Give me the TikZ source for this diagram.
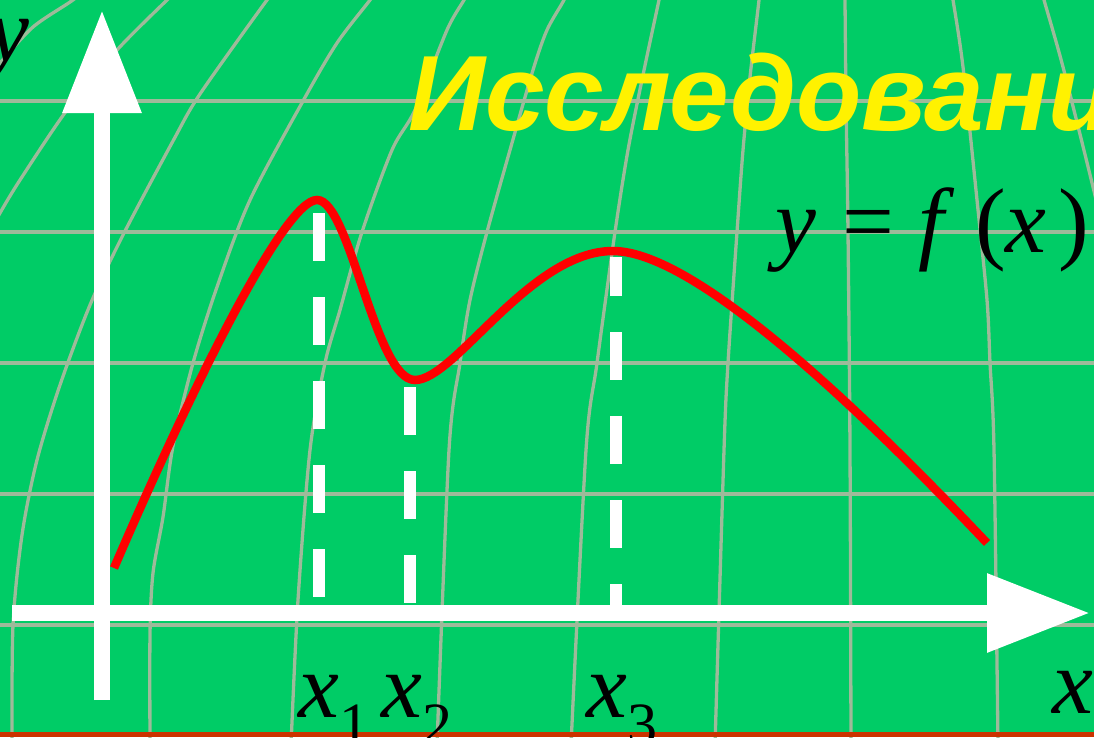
\documentclass[tikz,border=0pt]{standalone}
\usepackage{fontspec}
\setmainfont{Liberation Serif}
\newfontfamily\titlefont{Liberation Sans}
\usetikzlibrary{arrows.meta}
\definecolor{bggreen}{RGB}{0,204,102}
\definecolor{gridgray}{RGB}{158,186,154}
\definecolor{barred}{RGB}{204,51,0}
\newcommand{\xlab}[1]{\textit{x}\raisebox{-0.3em}{\fontsize{60}{62}\selectfont #1}}

\begin{document}
\begin{tikzpicture}[x=1pt,y=-1pt,
		gridline/.style={gridgray,line width=3.3pt},
		axis/.style={white,line width=16pt,-{Triangle[width=75pt,length=103pt]}},
		drop/.style={white,line width=12pt,dash pattern=on 48pt off 36pt},
		mathlbl/.style={inner sep=0pt,anchor=base west,font=\fontsize{92}{96}\selectfont}]
				\useasboundingbox (0,0) rectangle (1094,737);
				\clip (0,0) rectangle (1094,737);
				\fill[bggreen] (0,0) rectangle (1094,737);
				% grid
				\foreach \gy in {101,232,363,494,625}
					\draw[gridline] (-5,\gy) -- (1100,\gy);
				\draw[gridline] plot[smooth] coordinates {(90,-15) (73,0) (33,27) (0,63) (-15,80)};
				\draw[gridline] plot[smooth] coordinates {(180,-12) (167,0) (117,50) (67,110) (20,180) (0,213) (-10,232)};
				\draw[gridline] plot[smooth] coordinates {(280,-15) (267,0) (200,94) (173,141) (123,235) (90,305) (60,385) (37,460) (22,535) (13,625) (12,745)};
				\draw[gridline] plot[smooth] coordinates {(380,-15) (370,0) (337,43) (303,101) (250,200) (217,287) (193,363) (173,446) (163,517) (153,573) (150,634) (150,745)};
				\draw[gridline] plot[smooth] coordinates {(472,-15) (464,0) (447,30) (415,110) (392,150) (362,232) (340,310) (325,363) (310,450) (298,600) (291,745)};
				\draw[gridline] plot[smooth] coordinates {(570,-15) (564,0) (547,30) (533,70) (510,150) (487,232) (470,300) (460,363) (449,450) (437,745)};
				\draw[gridline] plot[smooth] coordinates {(662,-15) (659,0) (643,75) (628,150) (615,232) (597,363) (586,450) (571,745)};
				\draw[gridline] plot[smooth] coordinates {(760,-15) (759,0) (750,77) (743,150) (737,232) (728,363) (724,450) (715,745)};
				\draw[gridline] plot[smooth] coordinates {(845,-15) (845,0) (846,100) (848,232) (850,450) (851,745)};
				\draw[gridline] plot[smooth] coordinates {(950,-15) (953,0) (963,67) (977,200) (987,300) (990,363) (994,450) (998,745)};
				\draw[gridline] plot[smooth] coordinates {(1040,-15) (1044,0) (1063,67) (1093,187) (1110,260)};
				\fill[barred] (0,732) rectangle (1094,737);
				% texts
				\node[anchor=base west,inner sep=0pt,yellow,font=\titlefont\bfseries\itshape\fontsize{107}{110}\selectfont] (title) at (408,130) {Исследовани};
				\node[mathlbl] (fx) at (775,252) {\textit{y}\hspace{26pt}=\hspace{25pt}\textit{f}\hspace{20pt}(\textit{x}\hspace{12pt})};
				% axes
				\draw[axis] (102,700) -- (102,10);
				\draw[axis] (12,613) -- (1090,613);
				\node[mathlbl] (ly) at (-12,61) {\textit{y}};
				\node[mathlbl] (lx) at (1052,713) {\textit{x}};
				% drops
				\draw[drop] (319,213) -- (319,597);
				\draw[drop] (410,387) -- (410,603);
				\draw[drop,dash phase=9pt] (616,257) -- (616,605);
				\node[mathlbl] (lx1) at (298,717) {\xlab{1}};
				\node[mathlbl] (lx2) at (381,717) {\xlab{2}};
				\node[mathlbl] (lx3) at (586,717) {\xlab{3}};
				% graph
				\draw[red,line width=8.5pt] (114,568) .. controls (195,380) and (285,200) .. (317,200)
					.. controls (350,200) and (375,380) .. (415,380)
					.. controls (455,380) and (530,251) .. (613,251)
					.. controls (700,251) and (880,430) .. (987,543);
			\end{tikzpicture}
\end{document}
